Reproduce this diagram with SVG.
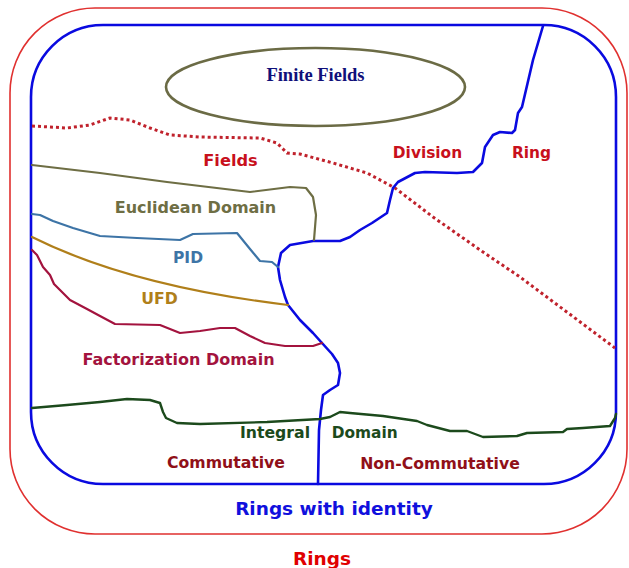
<svg xmlns="http://www.w3.org/2000/svg" width="629" height="568" viewBox="0 0 629 568">
<style>
.t{font-family:"DejaVu Sans",Verdana,sans-serif;font-weight:bold;font-size:15.7px;text-anchor:middle}
.b{fill:none;stroke-linejoin:round;stroke-linecap:round}
</style>
<rect width="629" height="568" fill="#ffffff"/>
<g id="rings">
<rect x="10" y="8" width="617" height="526" rx="85" ry="85" fill="none" stroke="#e0302f" stroke-width="1.6"/>
<text class="t" x="322" y="565" fill="#e00000" style="font-size:18.5px">Rings</text>
</g>
<g id="rings-with-identity">
<rect x="31" y="25" width="585" height="459" rx="72" ry="72" fill="none" stroke="#0a0ae0" stroke-width="2.6"/>
<text class="t" x="334" y="515" fill="#1010dd" style="font-size:18.5px">Rings with identity</text>
</g>
<g id="finite-fields">
<ellipse cx="315.5" cy="87" rx="149.5" ry="39" fill="none" stroke="#6b6b45" stroke-width="2.6"/>
<text x="315.5" y="81" font-family="'Liberation Serif','Times New Roman',serif" font-weight="bold" font-size="18.5" text-anchor="middle" fill="#10107a">Finite Fields</text>
</g>
<g id="connectors">
<path id="fields-boundary" fill="none" stroke="#c0222c" stroke-width="3" stroke-dasharray="3 3" stroke-linecap="butt" d="M32,126 L67,128 L90,125 L110,118 L130,120 L150,128 L170,135 L200,137 L260,138 L277,143 L287,153 L300,154 L333,163 L367,173 L395,188 L433,217 L483,252 L520,277 L615,348"/>
<path id="division-ring-boundary" class="b" stroke="#0a0ae0" stroke-width="2.6" d="M543,26 L533,60 L522,107 L518,113 L515,130 L512,133 L500,132 L493,135 L485,147 L482,163 L473,172 L457,173 L425,172 L415,173 L398,182 L393,188 L390,200 L387,213 L372,223 L360,230 L350,237 L340,241 L313,241 L290,245 L281,253 L278,267 L280,280 L285,297 L288,305 L300,320 L313,333 L322,343 L332,354 L338,363 L340,373 L338,385 L330,390 L323,395 L321,410 L319,430 L318,484"/>
<path id="euclidean-boundary" class="b" stroke="#6e6e44" stroke-width="2.2" d="M32,165 L100,173 L167,182 L250,192 L290,187 L306,188 L313,197 L316,215 L314,240"/>
<path id="pid-boundary" class="b" stroke="#3d74a6" stroke-width="2.2" d="M32,214 L40,215 L53,221 L73,228 L100,236 L137,238 L180,240 L193,234 L237,233 L250,249 L260,261 L272,262 L278,267"/>
<path id="ufd-boundary" class="b" stroke="#b07f1a" stroke-width="2.2" d="M32,237 Q130,286 288,305"/>
<path id="factorization-boundary" class="b" stroke="#a3133e" stroke-width="2.2" d="M32,250 L37,255 L43,267 L50,275 L54,284 L60,290 L70,300 L87,309 L100,316 L115,324 L160,325 L180,333 L200,331 L220,328 L235,328 L250,336 L265,343 L285,346 L313,346 L322,343"/>
<path id="integral-boundary" class="b" stroke="#1c4a1c" stroke-width="2.4" d="M32,408 L67,405 L100,402 L127,399 L150,400 L160,403 L163,412 L166,418 L177,423 L200,424 L267,422 L320,419 L330,417 L340,412 L350,413 L383,416 L417,421 L427,425 L450,431 L467,431 L483,437 L517,436 L527,433 L563,432 L567,429 L583,428 L610,426 L615,418 L616,414"/>
</g>
<g id="labels">
<text class="t" x="230.5" y="166" fill="#c8101c" style="font-size:16.2px">Fields</text>
<text class="t" x="427.5" y="158" fill="#c8101c" style="font-size:15.4px">Division</text>
<text class="t" x="531.5" y="158" fill="#c8101c" style="font-size:15.4px">Ring</text>
<text class="t" x="195.5" y="213" fill="#6e6e44" style="font-size:16px">Euclidean Domain</text>
<text class="t" x="188" y="263" fill="#3d74a6" style="font-size:15.5px">PID</text>
<text class="t" x="159.5" y="304" fill="#b07f1a" style="font-size:15.7px">UFD</text>
<text class="t" x="178.5" y="365" fill="#a3133e" style="font-size:16px">Factorization Domain</text>
<text class="t" x="275" y="437.5" fill="#1c4a1c">Integral</text>
<text class="t" x="364.7" y="437.5" fill="#1c4a1c" style="font-size:15.4px">Domain</text>
<text class="t" x="226" y="468" fill="#901018">Commutative</text>
<text class="t" x="440" y="469" fill="#901018">Non-Commutative</text>
</g>
</svg>
